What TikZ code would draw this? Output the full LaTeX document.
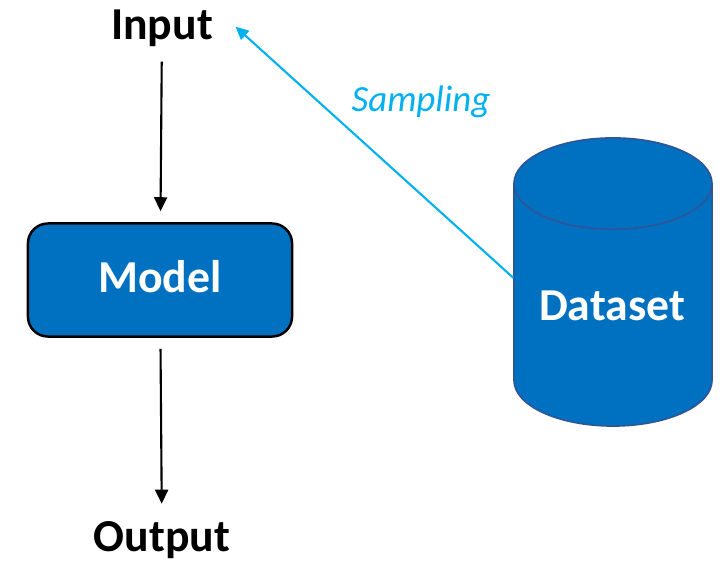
\documentclass[tikz,border=0pt]{standalone}
\usepackage{fontspec}
\setmainfont{Carlito}
\usetikzlibrary{shapes.geometric,arrows.meta}

\definecolor{boxblue}{HTML}{0070C0}
\definecolor{canedge}{HTML}{2F5597}
\definecolor{skyblue}{HTML}{00B0F0}

\begin{document}
\begin{tikzpicture}[
    x=0.01cm, y=-0.01cm,
    lbl/.style={
        font=\fontsize{13pt}{15pt}\selectfont\bfseries,
        text height=0.7em,
        text depth=0pt
    },
    term/.style={
        lbl,
        inner xsep=0.22cm,
        inner ysep=0.22cm
    },
    block/.style={
        lbl,
        rectangle,
        rounded corners=0.2cm,
        draw=black,
        line width=0.7pt,
        fill=boxblue,
        text=white,
        minimum width=2.64cm,
        minimum height=1.13cm
    },
    store/.style={
        cylinder,
        shape border rotate=90,
        aspect=3.9,
        draw=canedge,
        line width=0.45pt,
        fill=boxblue,
        minimum height=2.88cm,
        minimum width=1.98cm
    },
    line/.style={draw, line width=0.6pt,
        -{Triangle[length=0.14cm,width=0.13cm]}},
    sample/.style={draw=skyblue, line width=0.6pt,
        -{Triangle[length=0.13cm,width=0.12cm]}}
]
\useasboundingbox (0,0) rectangle (724,560);

% Left column: input, model, output
\node [term, anchor=base] (input) at (162,39) {Input};
\node [block] (model) at (160,280) {Model};
\node [term, anchor=base] (output) at (162,551) {Output};

% Dataset drum on the right
\node [store] (dataset) at (613,316) {};
\node [lbl, text=white, anchor=base] (datatext) at (612,320) {Dataset};

% Connections
\draw [line, shorten >=0.11cm] (input) -- (model);
\draw [line, shorten <=0.11cm] (model) -- (output);
\draw [sample] (dataset.159) -- (input.east);
\node [font=\fontsize{10.5pt}{12pt}\selectfont\itshape, text=skyblue, anchor=base]
    (samplabel) at (421,111) {Sampling};

\end{tikzpicture}
\end{document}
